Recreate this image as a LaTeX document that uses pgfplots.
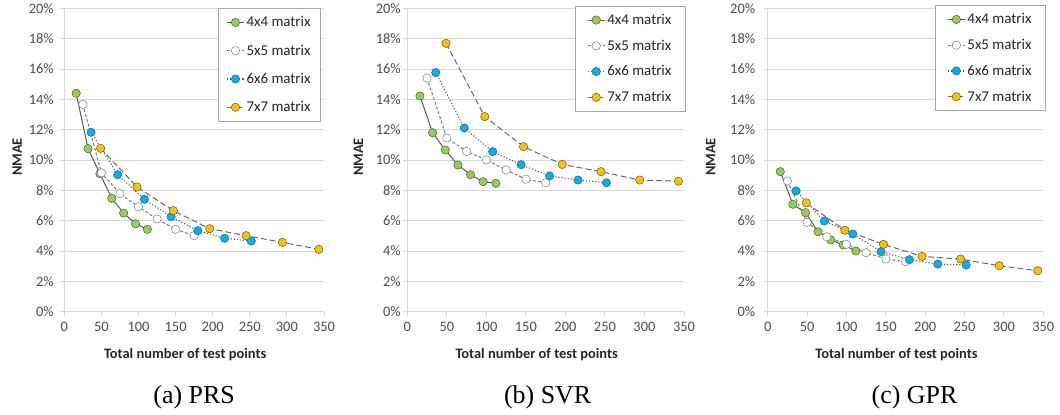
\documentclass[border=0pt]{standalone}
\usepackage{fontspec}
\setmainfont{Carlito}
\newfontfamily\capfont{Liberation Serif}
\usepackage{pgfplots}
\pgfplotsset{compat=1.18}

\definecolor{cgreen}{HTML}{92D050}
\definecolor{cblue}{HTML}{00B0F0}
\definecolor{corange}{HTML}{FFC000}
\definecolor{cline}{HTML}{595959}
\definecolor{cgrid}{HTML}{D9D9D9}
\definecolor{ctext}{HTML}{4D4D4D}

\pgfplotsset{
  panel/.style={
    scale only axis, height=303.4bp,
    xmin=0, xmax=350, ymin=0, ymax=20,
    axis lines=left,
    axis line style={-, draw=cgrid, line width=0.9bp},
    xtick={0,50,...,350}, ytick={0,2,...,20},
    yticklabel={\pgfmathprintnumber{\tick}\%},
    /pgf/number format/assume math mode=true,
    ymajorgrids, grid style={cgrid, line width=0.9bp},
    tick align=outside, major tick length=4bp,
    tick style={cgrid, line width=0.9bp},
    ticklabel style={font=\fontsize{14.5}{16}\selectfont, text=ctext},
    xticklabel style={yshift=-3bp},
    xlabel={Total number of test points}, ylabel={NMAE},
    label style={font=\bfseries\fontsize{14.5}{16}\selectfont, text=black!85},
    xlabel style={at={(axis description cs:0.5,0)}, anchor=center, yshift=-43bp, xshift=-9bp},
    clip=false,
    legend cell align=left,
    legend style={draw=gray!70, line width=0.6bp, font=\fontsize{15}{17}\selectfont,
      text=black!85, row sep=10bp, inner xsep=7bp, inner ysep=6bp, anchor=north east},
  },
  s4/.style={line width=1bp, cline, mark=*, mark size=4.2bp,
    mark options={solid, fill=cgreen, draw=gray!70!black, line width=0.5bp}},
  s5/.style={line width=1bp, cline!80, dash pattern=on 3bp off 2bp, mark=*, mark size=4.2bp,
    mark options={solid, fill=white, draw=gray, line width=0.5bp}},
  s6/.style={line width=1.1bp, cline, dotted, mark=*, mark size=4.2bp,
    mark options={solid, fill=cblue, draw=gray!70!black, line width=0.5bp}},
  s7/.style={line width=1bp, cline!90, dash pattern=on 6bp off 3bp, mark=*, mark size=4.2bp,
    mark options={solid, fill=corange, draw=gray!70!black, line width=0.5bp}},
}

\begin{document}
\begin{tikzpicture}
\useasboundingbox (0,0) rectangle (1060bp,415bp);

% (a) PRS
\begin{axis}[panel, at={(64.3bp,103.3bp)}, width=259.7bp,
  yticklabel style={xshift=-3bp},
  ylabel style={at={(axis description cs:-0.181,0.51)}, anchor=center},
  legend style={at={(rel axis cs:0.988,1.0)}, row sep=12.5bp, inner xsep=8bp}]
\addplot[s4] coordinates {(16,14.4)(32,10.75)(48,9.1)(64,7.47)(80,6.5)(96,5.8)(112,5.43)};
\addplot[s5] coordinates {(25,13.67)(50,9.15)(75,7.78)(100,6.92)(125,6.11)(150,5.43)(175,5.01)};
\addplot[s6] coordinates {(36,11.83)(72,9.03)(108,7.41)(144,6.26)(180,5.34)(216,4.84)(252,4.66)};
\addplot[s7] coordinates {(49,10.77)(98,8.22)(147,6.66)(196,5.47)(245,5.01)(294,4.57)(343,4.11)};
\legend{4x4 matrix,5x5 matrix,6x6 matrix,7x7 matrix}
\node[font=\capfont\fontsize{26}{28}\selectfont] at (axis description cs:0.5,0) [yshift=-86bp] {(a) PRS};
\end{axis}

% (b) SVR
\begin{axis}[panel, at={(407.3bp,103.3bp)}, width=276.7bp,
  yticklabel style={xshift=1bp},
  ylabel style={at={(axis description cs:-0.177,0.51)}, anchor=center},
  legend style={at={(rel axis cs:1.006,1.008)}, row sep=10bp, inner xsep=12bp}]
\addplot[s4] coordinates {(16,14.22)(32,11.8)(48,10.66)(64,9.67)(80,9.03)(96,8.57)(112,8.46)};
\addplot[s5] coordinates {(25,15.4)(50,11.45)(75,10.57)(100,10.0)(125,9.34)(150,8.73)(175,8.5)};
\addplot[s6] coordinates {(36,15.76)(72,12.11)(108,10.55)(144,9.69)(180,8.95)(216,8.68)(252,8.5)};
\addplot[s7] coordinates {(49,17.69)(98,12.86)(147,10.88)(196,9.71)(245,9.23)(294,8.68)(343,8.6)};
\legend{4x4 matrix,5x5 matrix,6x6 matrix,7x7 matrix}
\node[font=\capfont\fontsize{26}{28}\selectfont] at (axis description cs:0.5,0) [yshift=-86bp, xshift=2bp] {(b) SVR};
\end{axis}

% (c) GPR
\begin{axis}[panel, at={(767.7bp,103.3bp)}, width=275.6bp,
  yticklabel style={xshift=-5bp},
  ylabel style={at={(axis description cs:-0.207,0.51)}, anchor=center},
  legend style={at={(rel axis cs:1.009,1.01)}, row sep=10bp, inner xsep=12bp}]
\addplot[s4] coordinates {(16,9.23)(32,7.08)(48,6.53)(64,5.27)(80,4.73)(96,4.4)(112,4.0)};
\addplot[s5] coordinates {(25,8.62)(50,5.89)(75,4.94)(100,4.44)(125,3.89)(150,3.47)(175,3.3)};
\addplot[s6] coordinates {(36,7.96)(72,5.98)(108,5.12)(144,3.96)(180,3.43)(216,3.14)(252,3.08)};
\addplot[s7] coordinates {(49,7.17)(98,5.37)(147,4.44)(196,3.65)(245,3.47)(294,3.03)(343,2.7)};
\legend{4x4 matrix,5x5 matrix,6x6 matrix,7x7 matrix}
\node[font=\capfont\fontsize{26}{28}\selectfont] at (axis description cs:0.5,0) [yshift=-86bp, xshift=9bp] {(c) GPR};
\end{axis}
\end{tikzpicture}
\end{document}
